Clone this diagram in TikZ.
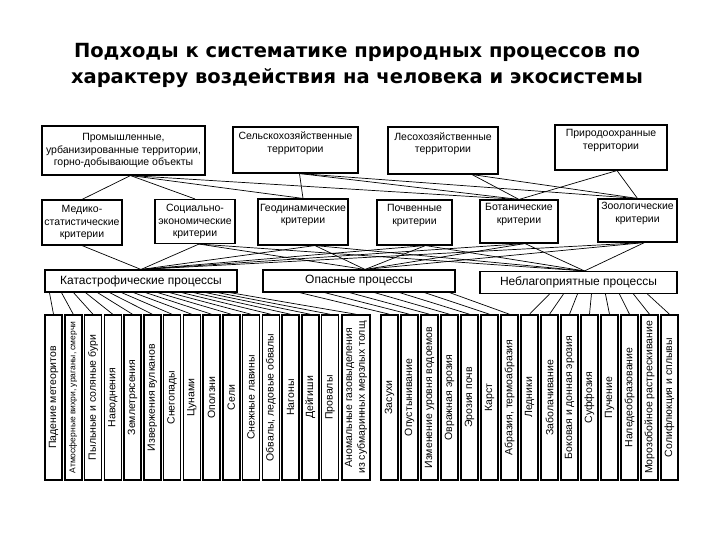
\documentclass[tikz,border=0pt]{standalone}
\usepackage{fontspec}
\setmainfont{Liberation Sans}
\newfontfamily\titlefont{DejaVu Sans}
\usetikzlibrary{calc}

\begin{document}
\begin{tikzpicture}[x=1pt,y=-1pt,
    box/.style={draw,line width=1.1pt,inner sep=1pt,align=center,font=\fontsize{10.5}{12.5}\selectfont},
    kind/.style={box,minimum height=22pt,font=\fontsize{12}{13}\selectfont},
    vbox/.style={draw,line width=1.5pt,minimum width=17pt,minimum height=165pt,inner sep=0pt,font=\fontsize{10.5}{11}\selectfont},
    link/.style={line width=0.7pt}]
  \useasboundingbox (0,0) rectangle (720,540);
  \node[align=center,font=\titlefont\bfseries\fontsize{19.5}{26}\selectfont] (title) at (357,65)
    {Подходы к систематике природных процессов по\\характеру воздействия на человека и экосистемы};

  \node[box,minimum width=163pt,minimum height=49pt] (prom) at (123.5,150.5)
    {Промышленные,\\урбанизированные территории,\\горно-добывающие объекты};
  \node[box,minimum width=125pt,minimum height=46pt] (selsk) at (295.5,150)
    {Сельскохозяйственные\\территории\\\strut};
  \node[box,minimum width=110pt,minimum height=47pt] (les) at (443,150.5)
    {Лесохозяйственные\\территории\\\strut};
  \node[box,minimum width=112pt,minimum height=45pt] (prir) at (611,147.5)
    {Природоохранные\\территории\\\strut};

  \node[box,minimum width=80pt,minimum height=45pt] (med) at (82,222.5) {Медико-\\статистические\\критерии};
  \node[box,minimum width=80pt,minimum height=44pt] (soc) at (195,221.5) {Социально-\\экономические\\критерии};
  \node[box,minimum width=90pt,minimum height=46pt] (geo) at (303,222) {Геодинамические\\критерии\\\strut};
  \node[box,minimum width=75pt,minimum height=45pt] (poch) at (414.5,222.5) {Почвенные\\критерии\\\strut};
  \node[box,minimum width=78pt,minimum height=43pt] (bot) at (519,221.5) {Ботанические\\критерии\\\strut};
  \node[box,minimum width=79pt,minimum height=43pt] (zoo) at (637.5,220.5) {Зоологические\\критерии\\\strut};

  \node[kind,minimum width=192pt] (kat) at (141,281) {Катастрофические процессы};
  \node[kind,minimum width=192pt] (opas) at (359,281) {Опасные процессы};
  \node[kind,minimum width=197pt] (neb) at (578.5,282.5) {Неблагоприятные процессы};

  \coordinate (prom-out) at ($(prom.south)+(7,0)$);
  \coordinate (selsk-out) at ($(selsk.south)+(4,0)$);
  \coordinate (les-out) at ($(les.south)+(29,0)$);
  \coordinate (prir-out) at ($(prir.south)+(6,0)$);
  \foreach \a/\b in {prom/med,prom/soc,prom/geo,prom/bot,selsk/geo,selsk/bot,selsk/zoo,
                     les/bot,les/zoo,prir/bot,prir/zoo}
    \draw[link] (\a-out) -- (\b.north);

  \coordinate (med-out) at (med.south);
  \coordinate (soc-out) at ($(soc.south)+(4,0)$);
  \coordinate (geo-out) at ($(geo.south)+(12,0)$);
  \coordinate (poch-out) at ($(poch.south)+(11,0)$);
  \coordinate (bot-out) at ($(bot.south)+(6,0)$);
  \coordinate (zoo-out) at ($(zoo.south)+(7,0)$);
  \coordinate (kat-in) at (kat.north);
  \coordinate (opas-in) at ($(opas.north)+(6,0)$);
  \coordinate (neb-in) at ($(neb.north)+(6,0)$);
  \foreach \a/\b in {med/kat,soc/kat,soc/opas,soc/neb,geo/kat,geo/opas,geo/neb,
                     poch/kat,poch/opas,poch/neb,bot/kat,bot/opas,bot/neb,zoo/kat,zoo/opas,zoo/neb}
    \draw[link] (\a-out) -- (\b-in);

  \foreach \i/\xc/\txt in {1/53.5/Падение метеоритов,
      2/73.25/{\fontsize{8.5}{9}\selectfont Атмосферные вихри, ураганы, смерчи},
      3/93/Пыльные и соляные бури, 4/112.75/Наводнения, 5/132.5/Землетрясения,
      6/152.25/Извержения вулканов, 7/172/Снегопады, 8/191.75/Цунами, 9/211.5/Оползни,
      10/231.25/Сели, 11/251/Снежные лавины, 12/270.75/{Обвалы, ледовые обвалы},
      13/290.5/Нагоны, 14/310.25/Дейгиши, 15/330/Провалы}
    \node[vbox] (p\i) at (\xc,397.5) {\rotatebox{90}{\txt}};
  \node[vbox,minimum width=28pt] (p16) at (356,397.5)
    {\rotatebox{90}{\shortstack{Аномальные газовыделения\\из субмаринных мерзлых толщ}}};
  \foreach \i/\txt in {17/Засухи, 18/Опустынивание, 19/Изменение уровня водоемов,
      20/Овражная эрозия, 21/Эрозия почв, 22/Карст, 23/{Абразия, термоабразия},
      24/Ледники, 25/Заболачивание, 26/Боковая и донная эрозия, 27/Суффозия,
      28/Пучение, 29/Наледеобразование, 30/Морозобойное растрескивание,
      31/Солифлюкция и сплывы}
    \node[vbox] (p\i) at ({389.5+20*(\i-17)},397.5) {\rotatebox{90}{\txt}};

  \foreach \i [evaluate=\i as \s using 5+(\i-1)*12] in {1,...,16}
    \draw[link] ([xshift=\s pt]kat.south west) -- (p\i.north);
  \foreach \i [evaluate=\i as \s using 37+(\i-17)*25] in {17,...,23}
    \draw[link] ([xshift=\s pt]opas.south west) -- (p\i.north);
  \foreach \i [evaluate=\i as \s using 70+(\i-24)*14] in {24,...,31}
    \draw[link] ([xshift=\s pt]neb.south west) -- (p\i.north);
\end{tikzpicture}
\end{document}
